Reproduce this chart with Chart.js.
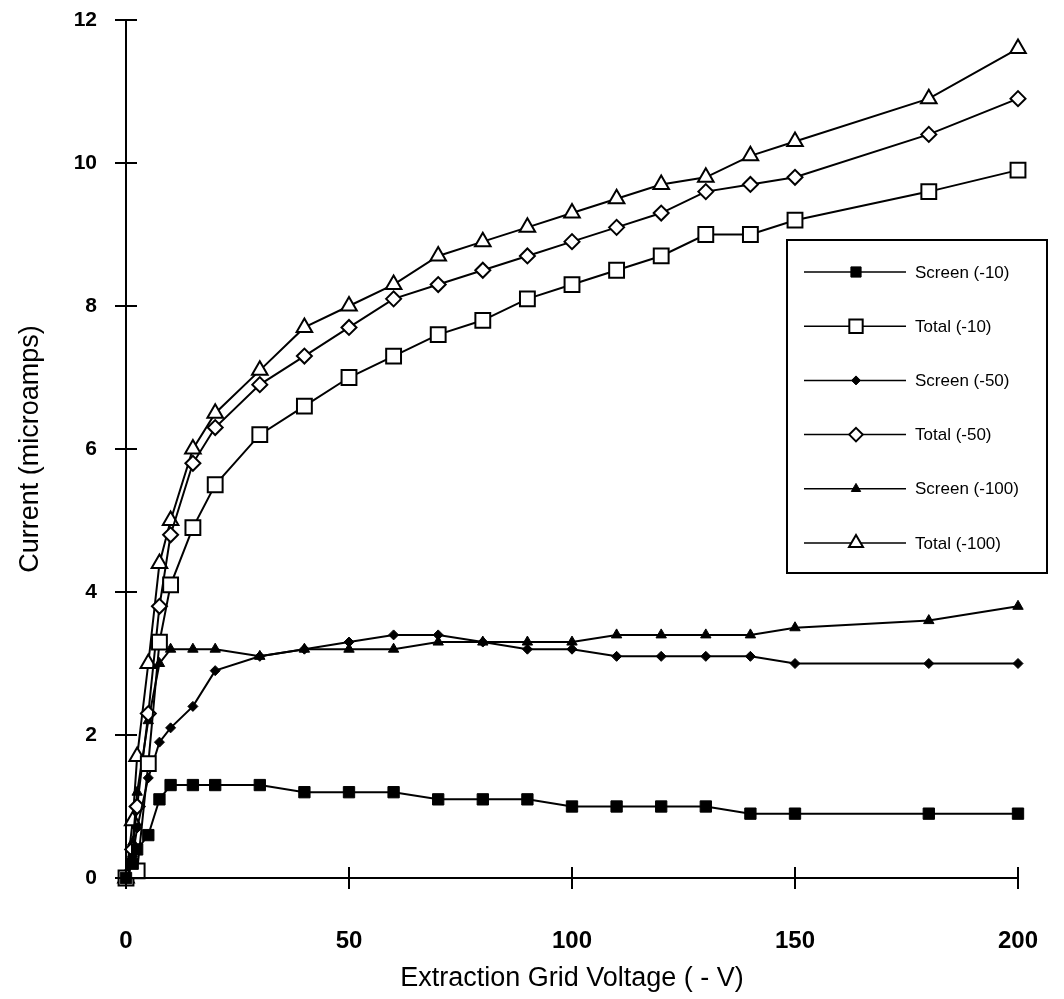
<!DOCTYPE html>
<html>
<head>
  <meta charset="UTF-8">
  <title>Extraction Grid Voltage vs Current</title>
  <script src="https://cdn.jsdelivr.net/npm/chart.js"></script>
  <style>
    body { margin: 0; background: #fff; }
    canvas { display: block; }
  </style>
</head>
<body>
  <canvas id="chart" width="1064" height="999"></canvas>

  <script>
    // grid voltage (-V), shared by every series
    const voltage = [0, 1.5, 2.5, 5, 7.5, 10, 15, 20, 30, 40, 50, 60, 70, 80, 90, 100, 110, 120, 130, 140, 150, 180, 200];

    // current in microamps
    const screen10  = [0, 0.2, 0.4, 0.6, 1.1, 1.3, 1.3, 1.3, 1.3, 1.2, 1.2, 1.2, 1.1, 1.1, 1.1, 1.0, 1.0, 1.0, 1.0, 0.9, 0.9, 0.9, 0.9];
    const total10   = [0, null, 0.1, 1.6, 3.3, 4.1, 4.9, 5.5, 6.2, 6.6, 7.0, 7.3, 7.6, 7.8, 8.1, 8.3, 8.5, 8.7, 9.0, 9.0, 9.2, 9.6, 9.9];
    const screen50  = [0, 0.3, 0.7, 1.4, 1.9, 2.1, 2.4, 2.9, 3.1, 3.2, 3.3, 3.4, 3.4, 3.3, 3.2, 3.2, 3.1, 3.1, 3.1, 3.1, 3.0, 3.0, 3.0];
    const total50   = [0, 0.4, 1.0, 2.3, 3.8, 4.8, 5.8, 6.3, 6.9, 7.3, 7.7, 8.1, 8.3, 8.5, 8.7, 8.9, 9.1, 9.3, 9.6, 9.7, 9.8, 10.4, 10.9];
    const screen100 = [0, 0.5, 1.2, 2.2, 3.0, 3.2, 3.2, 3.2, 3.1, 3.2, 3.2, 3.2, 3.3, 3.3, 3.3, 3.3, 3.4, 3.4, 3.4, 3.4, 3.5, 3.6, 3.8];
    const total100  = [0, 0.8, 1.7, 3.0, 4.4, 5.0, 6.0, 6.5, 7.1, 7.7, 8.0, 8.3, 8.7, 8.9, 9.1, 9.3, 9.5, 9.7, 9.8, 10.1, 10.3, 10.9, 11.6];

    const xTicks = [0, 50, 100, 150, 200];
    const yTicks = [0, 2, 4, 6, 8, 10, 12];

    const toPoints = vals => voltage.map((v, i) => ({ x: v, y: vals[i] })).filter(p => p.y !== null);

    function series(label, vals, style, radius, filled) {
      return {
        label: label,
        data: toPoints(vals),
        showLine: true,
        clip: false,
        borderColor: "#000",
        borderWidth: 2,
        pointStyle: style,
        pointRadius: radius,
        pointBorderWidth: filled ? 1 : 2,
        pointBorderColor: "#000",
        pointBackgroundColor: filled ? "#000" : "#fff",
        tension: 0
      };
    }

    const datasets = [
      series("Screen (-10)", screen10, "rect", 8, true),
      series("Total (-10)", total10, "rect", 10.5, false),
      series("Screen (-50)", screen50, "rectRot", 5, true),
      series("Total (-50)", total50, "rectRot", 7.5, false),
      series("Screen (-100)", screen100, "triangle", 6, true),
      series("Total (-100)", total100, "triangle", 9, false)
    ];

    // tick marks that cross the axis lines, like the original plot
    const crossTicks = {
      id: "crossTicks",
      afterDraw(chart) {
        const { ctx, scales: { x, y } } = chart;
        ctx.save();
        ctx.strokeStyle = "#000";
        ctx.lineWidth = 2;
        ctx.beginPath();
        ctx.moveTo(x.getPixelForValue(0), y.getPixelForValue(12));
        ctx.lineTo(x.getPixelForValue(0), y.getPixelForValue(0));
        ctx.lineTo(x.getPixelForValue(200), y.getPixelForValue(0));
        yTicks.forEach(t => {
          const py = y.getPixelForValue(t);
          ctx.moveTo(x.getPixelForValue(0) - 11, py);
          ctx.lineTo(x.getPixelForValue(0) + 11, py);
        });
        xTicks.forEach(t => {
          const px = x.getPixelForValue(t);
          ctx.moveTo(px, y.getPixelForValue(0) - 11);
          ctx.lineTo(px, y.getPixelForValue(0) + 11);
        });
        ctx.stroke();
        ctx.restore();
      }
    };

    function drawMarker(ctx, style, r, cx, cy, filled) {
      ctx.beginPath();
      if (style === "rect") {
        const s = r * Math.SQRT1_2;
        ctx.rect(cx - s, cy - s, 2 * s, 2 * s);
      } else if (style === "rectRot") {
        ctx.moveTo(cx, cy - r);
        ctx.lineTo(cx + r, cy);
        ctx.lineTo(cx, cy + r);
        ctx.lineTo(cx - r, cy);
        ctx.closePath();
      } else {
        const w = r * Math.sqrt(3) / 2;
        ctx.moveTo(cx, cy - r);
        ctx.lineTo(cx + w, cy + r / 2);
        ctx.lineTo(cx - w, cy + r / 2);
        ctx.closePath();
      }
      ctx.fillStyle = filled ? "#000" : "#fff";
      ctx.fill();
      ctx.lineWidth = filled ? 1 : 2;
      ctx.stroke();
    }

    // boxed legend inside the plot, drawn on the canvas
    const boxLegend = {
      id: "boxLegend",
      afterDraw(chart) {
        const ctx = chart.ctx;
        ctx.save();
        ctx.strokeStyle = "#000";
        ctx.lineWidth = 2;
        ctx.fillStyle = "#fff";
        ctx.fillRect(787, 240, 260, 333);
        ctx.strokeRect(787, 240, 260, 333);
        ctx.font = "17px 'Liberation Sans', Arial, sans-serif";
        ctx.textBaseline = "middle";
        chart.data.datasets.forEach((ds, i) => {
          const ry = 272 + i * 54.2;
          ctx.strokeStyle = "#000";
          ctx.lineWidth = 1.5;
          ctx.beginPath();
          ctx.moveTo(804, ry);
          ctx.lineTo(906, ry);
          ctx.stroke();
          drawMarker(ctx, ds.pointStyle, ds.pointRadius * 0.9, 856, ry, ds.pointBackgroundColor === "#000");
          ctx.fillStyle = "#000";
          ctx.fillText(ds.label, 915, ry + 1);
        });
        ctx.restore();
      }
    };

    new Chart(document.getElementById("chart"), {
      type: "scatter",
      data: { datasets: datasets },
      options: {
        responsive: false,
        animation: false,
        layout: { padding: { left: 0, top: 20, right: 46, bottom: 0 } },
        plugins: {
          legend: { display: false },
          tooltip: { enabled: false }
        },
        scales: {
          x: {
            type: "linear",
            min: 0,
            max: 200,
            afterFit: s => { s.height = 121; s.paddingLeft = 0; s.paddingRight = 0; },
            afterBuildTicks: s => { s.ticks = xTicks.map(v => ({ value: v })); },
            grid: { display: false, drawTicks: false },
            border: { display: false },
            ticks: {
              color: "#000",
              padding: 49,
              maxRotation: 0,
              font: { family: "'Liberation Sans', Arial, sans-serif", size: 24, weight: "bold" }
            },
            title: {
              display: true,
              text: "Extraction Grid Voltage ( - V)",
              color: "#000",
              padding: { top: 0, bottom: 4 },
              font: { family: "'Liberation Sans', Arial, sans-serif", size: 27 }
            }
          },
          y: {
            type: "linear",
            min: 0,
            max: 12,
            afterFit: s => { s.width = 126; s.paddingTop = 0; s.paddingBottom = 0; },
            afterBuildTicks: s => { s.ticks = yTicks.map(v => ({ value: v })); },
            grid: { display: false, drawTicks: false },
            border: { display: false },
            ticks: {
              color: "#000",
              padding: 29,
              font: { family: "'Liberation Sans', Arial, sans-serif", size: 21, weight: "bold" }
            },
            title: {
              display: true,
              text: "Current (microamps)",
              color: "#000",
              padding: { top: 14, bottom: 0 },
              font: { family: "'Liberation Sans', Arial, sans-serif", size: 27 }
            }
          }
        }
      },
      plugins: [crossTicks, boxLegend]
    });
  </script>
</body>
</html>
